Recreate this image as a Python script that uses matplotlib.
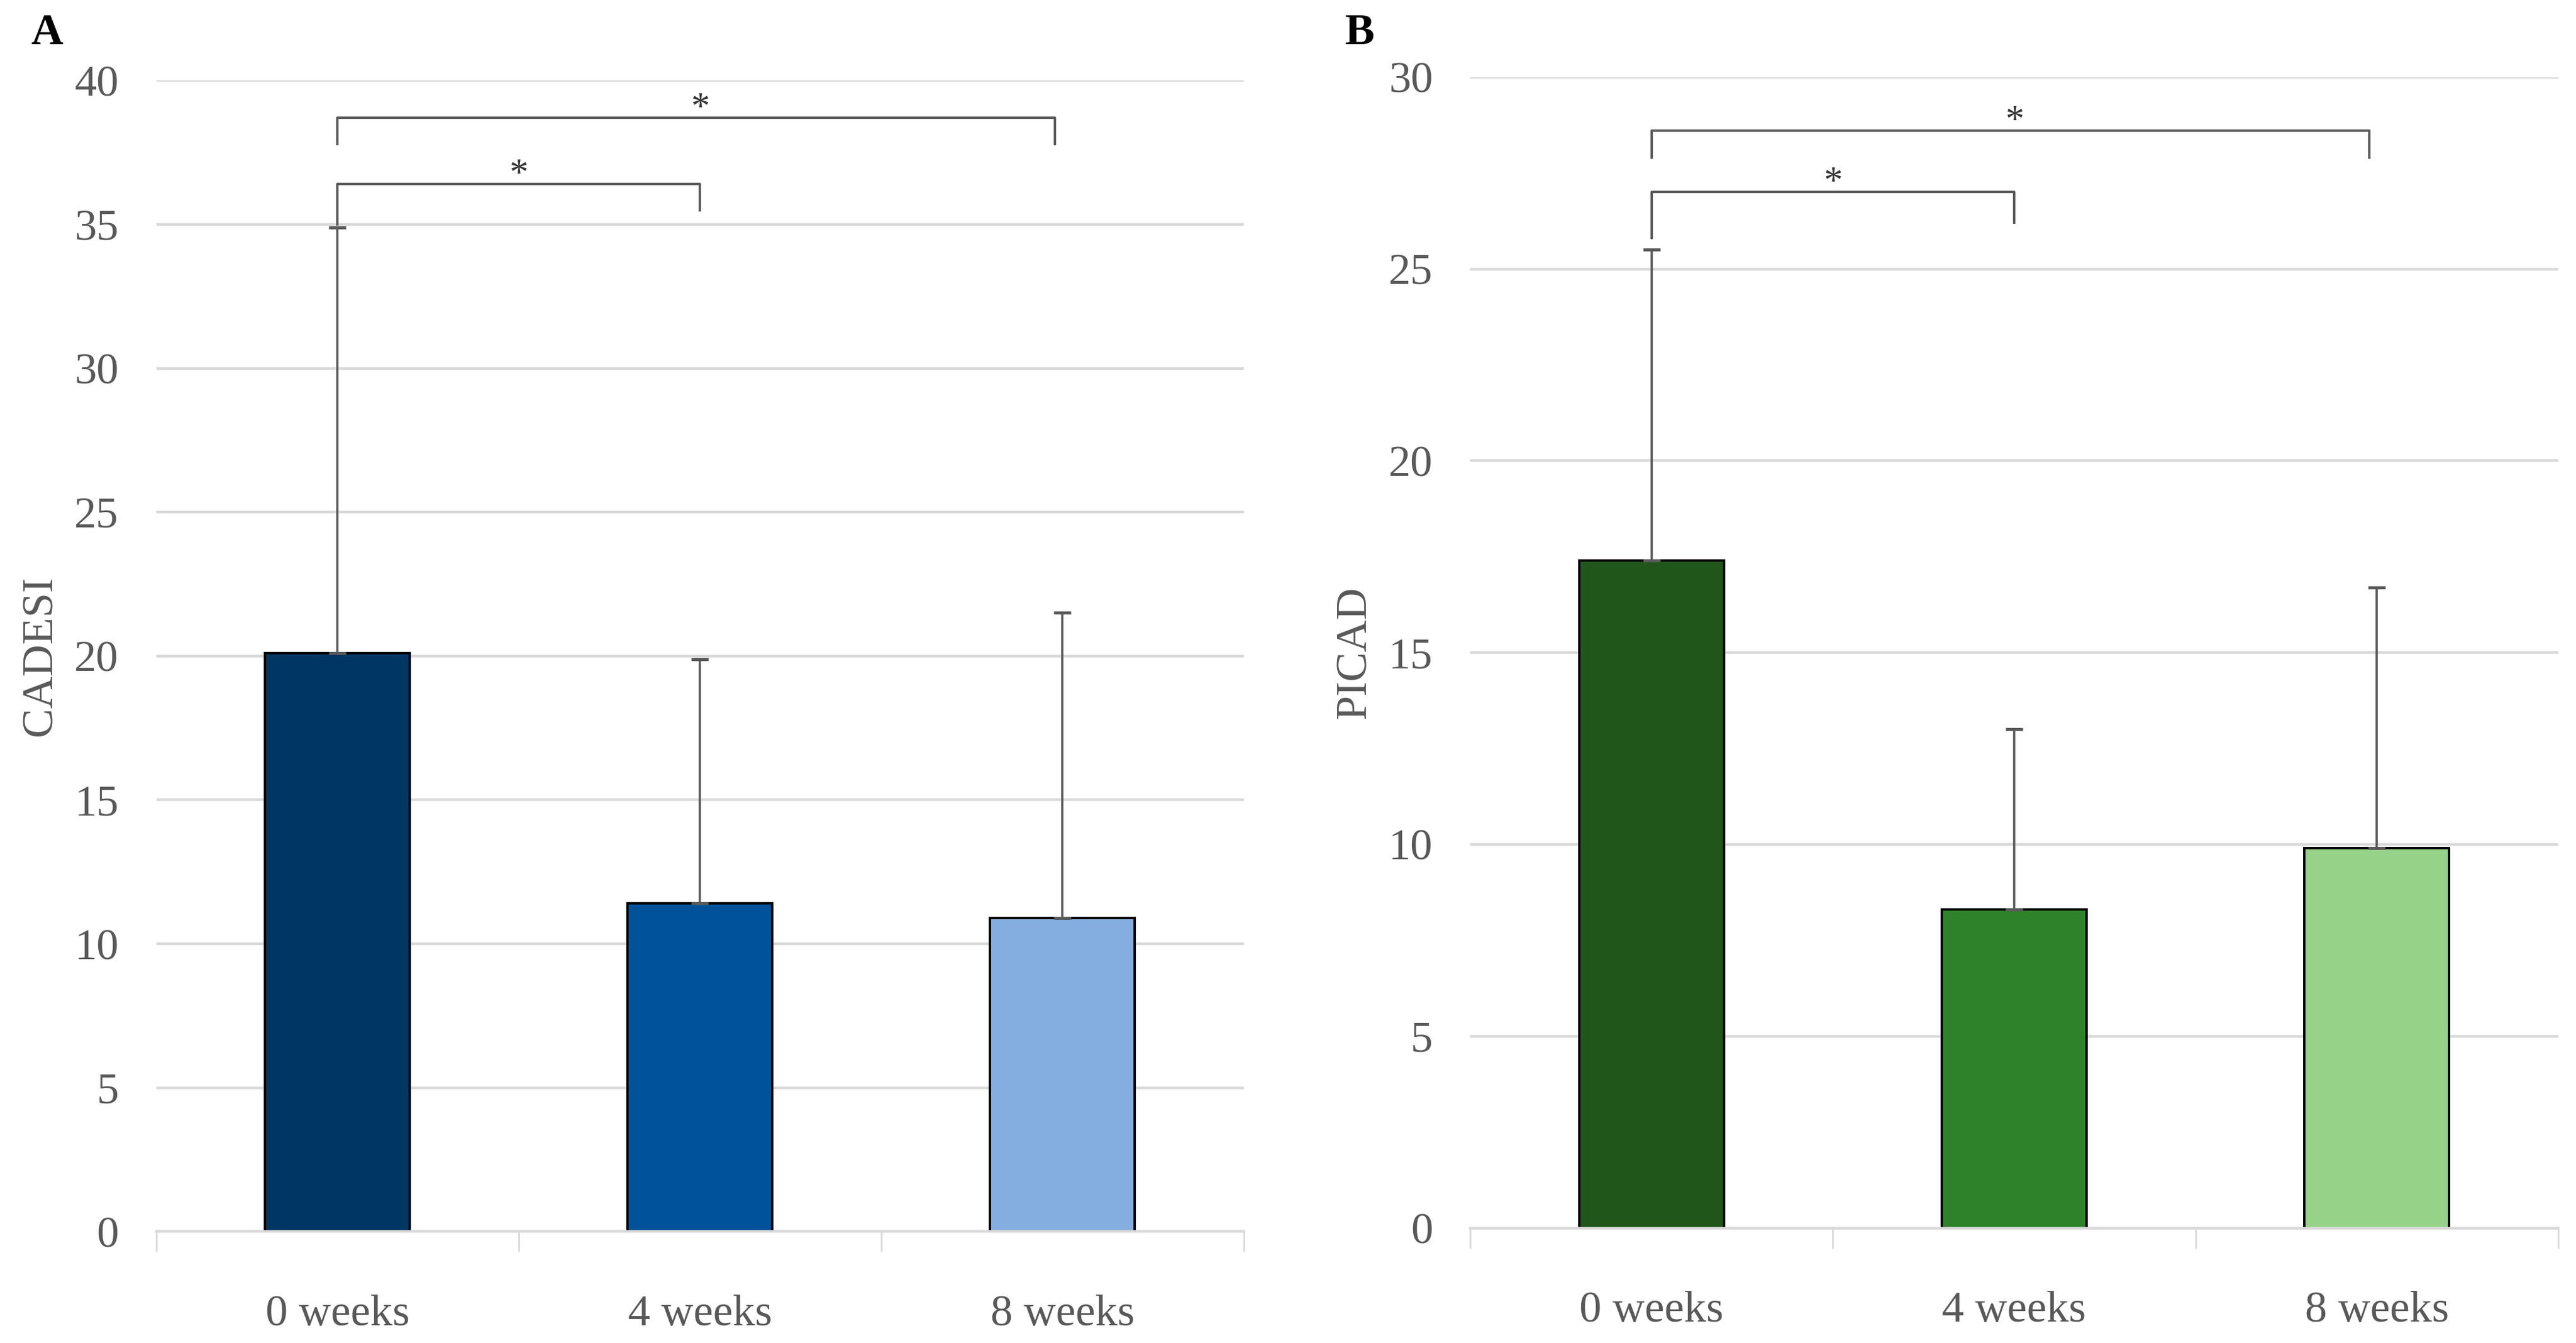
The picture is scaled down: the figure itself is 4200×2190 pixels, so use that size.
import matplotlib.pyplot as plt
import numpy as np

plt.rcParams['font.family'] = ['Liberation Serif', 'DejaVu Serif']

# data
weeks = ['0 weeks', '4 weeks', '8 weeks']

cadesi_mean = [20.1, 11.4, 10.9]
cadesi_sd = [14.8, 8.5, 10.6]

picad_mean = [17.4, 8.3, 9.9]
picad_sd = [8.1, 4.7, 6.8]

# significance brackets: (left bar, right bar, bar height, left drop, right drop)
cadesi_brackets = [(0, 1, 36.4, 35.0, 35.5), (0, 2, 38.7, 37.8, 37.8)]
picad_brackets = [(0, 1, 27.0, 25.8, 26.2), (0, 2, 28.6, 27.9, 27.9)]

blues = ['#003664', '#00539a', '#84aee0']
greens = ['#21561a', '#2e8229', '#96d389']

grey = '#595959'
gridc = '#d9d9d9'

fig = plt.figure(figsize=(21, 10.95), dpi=200)
axA = fig.add_axes([0.0606, 0.083, 0.4222, 0.857])
axB = fig.add_axes([0.5708, 0.0856, 0.4222, 0.857])


def panel(ax, means, sds, colors, brackets, ymax, ylabel):
    x = np.arange(len(weeks))
    ax.set_axisbelow(True)
    ax.bar(x, means, width=0.4, color=colors, edgecolor='black', linewidth=1.4, zorder=2)
    ax.errorbar(x, means, yerr=[np.zeros(len(sds)), sds], fmt='none',
                ecolor=grey, elinewidth=1.3, capsize=5, capthick=1.8, zorder=3)
    for a, b, h, da, db in brackets:
        ax.plot([a, a, b - 0.02 * (b - a > 1), b - 0.02 * (b - a > 1)],
                [da, h, h, db], color=grey, lw=1.4, zorder=3)
        ax.text((a + b) / 2, h + ymax * 0.008, '*', ha='center', va='center',
                fontsize=22, color='#333333')
    ax.set_xlim(-0.5, 2.5)
    ax.set_ylim(0, ymax)
    ax.set_yticks(np.arange(0, ymax + 1, 5))
    ax.yaxis.grid(True, color=gridc, lw=1.6)
    ax.set_xticks(x)
    ax.set_xticklabels(weeks)
    ax.set_xticks([-0.5, 0.5, 1.5, 2.5], minor=True)
    ax.tick_params(axis='x', which='major', length=0, pad=37, labelsize=26, labelcolor=grey)
    ax.tick_params(axis='x', which='minor', length=12, width=1.0, color=gridc)
    ax.tick_params(axis='y', length=0, pad=22, labelsize=26, labelcolor=grey)
    for s in ['top', 'right', 'left']:
        ax.spines[s].set_visible(False)
    ax.spines['bottom'].set_color(gridc)
    ax.spines['bottom'].set_linewidth(1.6)
    ax.set_ylabel(ylabel, fontsize=26, color=grey, labelpad=8)


panel(axA, cadesi_mean, cadesi_sd, blues, cadesi_brackets, 40, 'CADESI')
panel(axB, picad_mean, picad_sd, greens, picad_brackets, 30, 'PICAD')

fig.text(0.012, 0.975, 'A', fontsize=26, fontweight='bold', va='center')
fig.text(0.522, 0.975, 'B', fontsize=26, fontweight='bold', va='center')

fig.savefig('out.png', dpi=200, facecolor='white')
